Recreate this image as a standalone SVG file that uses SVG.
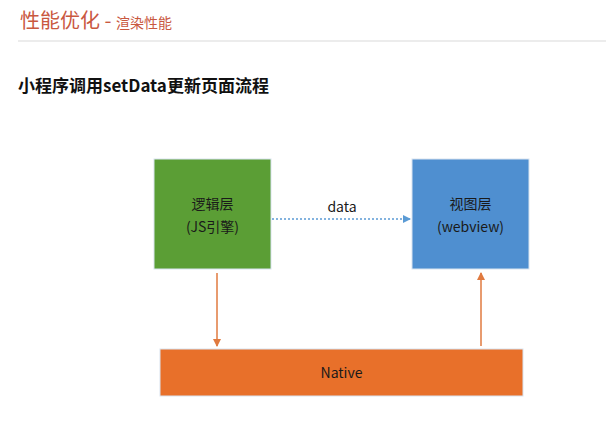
<svg xmlns="http://www.w3.org/2000/svg" width="606" height="421" viewBox="0 0 606 421">
<style>
text{font-family:"Noto Sans CJK SC","Noto Sans",sans-serif}
.box{stroke:#d9e4f0;stroke-width:1}
.lbl{font-size:14px;fill:#1a1a1a;text-anchor:middle}
.or{stroke:#e07a3f;stroke-width:1.5;fill:none}
</style>
<defs>
<marker id="ao" markerWidth="8" markerHeight="8" refX="7" refY="4" orient="auto" markerUnits="userSpaceOnUse"><path d="M0,0 L8,4 L0,8 z" fill="#e07a3f"/></marker>
<marker id="ab" markerWidth="8" markerHeight="8" refX="7" refY="4" orient="auto" markerUnits="userSpaceOnUse"><path d="M0,0 L8,4 L0,8 z" fill="#5b9bd5"/></marker>
</defs>
<rect width="606" height="421" fill="#fff"/>
<g id="header">
<text x="20" y="28" font-size="20" fill="#c9583f">性能优化 - <tspan font-size="14">渲染性能</tspan></text>
<line x1="18" y1="41" x2="606" y2="41" stroke="#e6e6e6" stroke-width="1.5"/>
<text x="18" y="92" font-size="17" font-weight="bold" fill="#111">小程序调用setData更新页面流程</text>
</g>
<g id="logic"><rect class="box" x="154" y="159" width="117" height="110" fill="#5b9e35"/>
<text class="lbl" x="212.5" y="209">逻辑层</text><text class="lbl" x="212.5" y="232">(JS引擎)</text></g>
<g id="view"><rect class="box" x="412" y="159" width="117" height="110" fill="#4f8fd0"/>
<text class="lbl" x="470.5" y="209">视图层</text><text class="lbl" x="470.5" y="232">(webview)</text></g>
<g id="native"><rect class="box" x="160" y="349" width="363" height="47" fill="#e8702a"/>
<text class="lbl" x="341.5" y="378">Native</text></g>
<g id="connectors">
<line x1="272" y1="219" x2="410" y2="219" stroke="#5b9bd5" stroke-width="1.5" stroke-dasharray="2,2" marker-end="url(#ab)"/>
<text class="lbl" x="342" y="212">data</text>
<line class="or" x1="217" y1="273" x2="217" y2="346" marker-end="url(#ao)"/>
<line class="or" x1="481" y1="346" x2="481" y2="273" marker-end="url(#ao)"/>
</g>
</svg>
